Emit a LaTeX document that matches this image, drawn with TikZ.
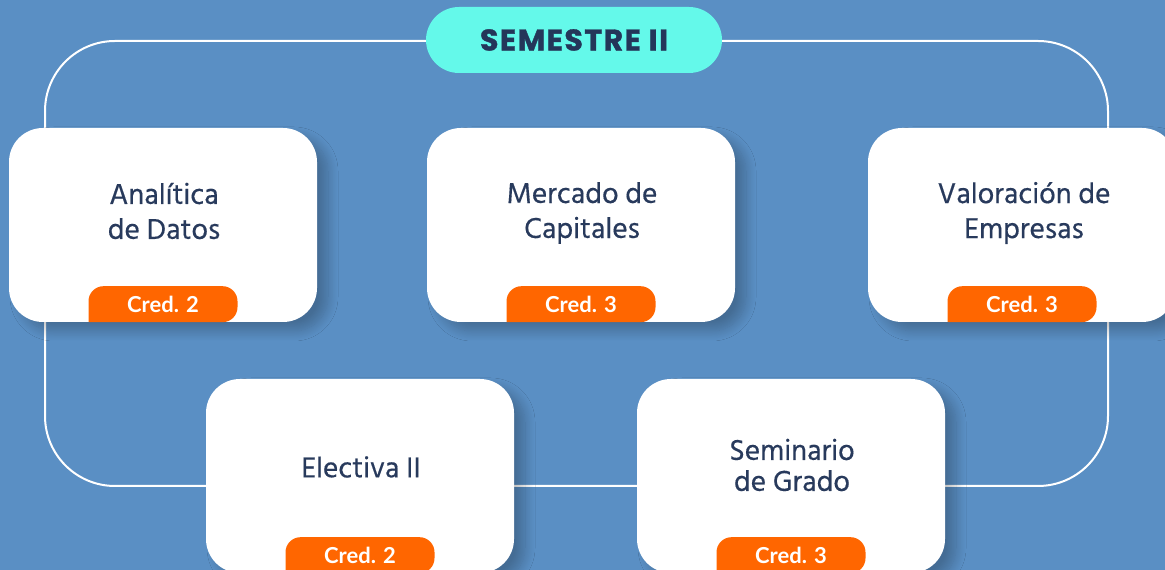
\documentclass[tikz,border=0pt]{standalone}
\usepackage{fontspec}
\usetikzlibrary{calc,shadows.blur}
\newfontfamily\cardfont{Hind Siliguri}[FakeBold=0.35]
\newfontfamily\titlefont{Poppins}[LetterSpace=5, BoldFeatures={FakeBold=1.2}]
\newfontfamily\badgefont{Lato}
\definecolor{bgblue}{HTML}{5A8FC4}
\definecolor{cyanpill}{HTML}{64F9EA}
\definecolor{navy}{HTML}{243659}
\definecolor{cardtxt}{HTML}{283A5C}
\definecolor{badgeor}{HTML}{FF6600}
\begin{document}
\begin{tikzpicture}[x=1pt,y=1pt,
  card/.style={rectangle, rounded corners=34, fill=white, minimum width=308, minimum height=194, inner sep=0,
    blur shadow={shadow xshift=11pt, shadow yshift=-9pt, shadow blur radius=10pt, shadow opacity=24, shadow blur steps=12}},
  cardtext/.style={font=\cardfont\fontsize{29.5}{35}\selectfont, text=cardtxt, align=center, inner sep=0},
  badgefill/.style={fill=badgeor},
  badgetext/.style={font=\badgefont\bfseries\fontsize{22}{24}\selectfont, text=white, inner sep=0},
  loopline/.style={draw=white, line width=2pt, rounded corners=70},
  titlepill/.style={rectangle, rounded corners=33, fill=cyanpill, minimum width=296, minimum height=66, inner sep=0,
    font=\titlefont\bfseries\fontsize{30}{36}\selectfont, text=navy}
]
\clip (0,0) rectangle (1165,570);
\fill[bgblue] (0,0) rectangle (1165,570);
% frame loop
\coordinate (lp1) at (45,84);
\coordinate (lp2) at (1108,529);
\draw[loopline] (lp1) rectangle (lp2);
% title
\node[titlepill] (title) at (574,530) {SEMESTRE II};
% cards
\node[card] (c1) at (163,345) {};
\node[card] (c2) at (581,345) {};
\node[card] (c3) at (1022,345) {};
\node[card] (c4) at (360,94) {};
\node[card] (c5) at (791,94) {};
% card texts
\node[cardtext] (t1) at (164,359) {Analítica\\de Datos};
\node[cardtext] (t2) at (582,357) {Mercado de\\Capitales};
\node[cardtext] (t3) at (1024,357) {Valoración de\\Empresas};
\node[cardtext] (t4) at (361,103) {Electiva II};
\node[cardtext, font=\cardfont\fontsize{29.5}{31}\selectfont] (t5) at (792,105) {Seminario\\de Grado};
% badges
\foreach \c/\n/\v in {c1/b1/2, c2/b2/3, c3/b3/3, c4/b4/2, c5/b5/3}{
  \fill[badgefill] ($(\c.south)+(-74.5,0)$) [rounded corners=15] -- ++(0,36) -- ++(149,0) -- ++(0,-36) [sharp corners] -- cycle;
  \node[badgetext] (\n) at ($(\c.south)+(0,18)$) {Cred. \v};
}
\end{tikzpicture}
\end{document}
